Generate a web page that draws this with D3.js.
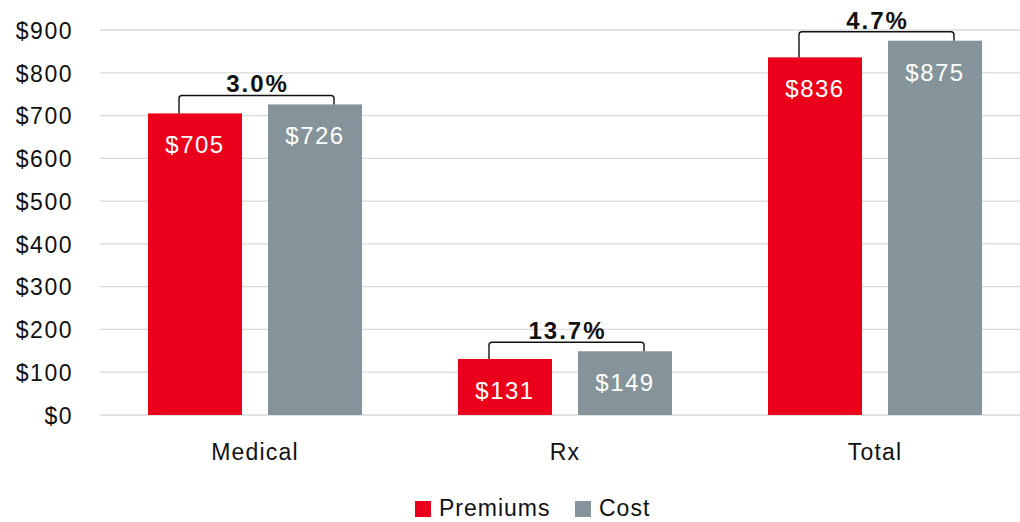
<!DOCTYPE html>
<html>
<head>
<meta charset="utf-8">
<script src="https://cdn.jsdelivr.net/npm/d3@7"></script>
<style>
  body { margin: 0; background: #fff; }
  svg { display: block; font-family: "Liberation Sans", Arial, sans-serif; }
</style>
</head>
<body>
<div id="chart"></div>
<script>
// chart data
const categories = ['Medical', 'Rx', 'Total']
const seriesNames = ['Premiums', 'Cost']
const premiums = [705, 131, 836]
const cost = [726, 149, 875]
const changeLabels = ['3.0%', '13.7%', '4.7%']
const yTicks = [0, 100, 200, 300, 400, 500, 600, 700, 800, 900]

const colors = { Premiums: '#EB001B', Cost: '#84949A' }

const width = 1020
const height = 522
const margin = { top: 30, left: 100, bottom: 107 }

const svg = d3.select('#chart').append('svg')
  .attr('width', width)
  .attr('height', height)

// scales
const x = d3.scaleBand()
  .domain(categories)
  .range([margin.left, margin.left + 930])

const x1 = d3.scaleBand()
  .domain(seriesNames)
  .range([48, 262])
  .paddingInner(26 / 120)

const y = d3.scaleLinear()
  .domain([0, 900])
  .range([height - margin.bottom, margin.top])

// grid lines
svg.append('g')
  .selectAll('line')
  .data(yTicks)
  .join('line')
  .attr('x1', margin.left)
  .attr('x2', width)
  .attr('y1', d => y(d))
  .attr('y2', d => y(d))
  .attr('stroke', '#d9d9d9')
  .attr('stroke-width', 1.3)

// y axis labels
const yAxis = svg.append('g')
  .attr('transform', `translate(${73},0)`)
  .call(d3.axisLeft(y).tickValues(yTicks).tickSize(0).tickPadding(0).tickFormat(d => '$' + d))
yAxis.select('.domain').remove()
yAxis.selectAll('text')
  .attr('font-size', 23)
  .attr('font-family', '"Liberation Sans", Arial, sans-serif')
  .attr('letter-spacing', 1.5)
  .attr('fill', '#111')
  .attr('dy', '0.36em')

// x axis labels
const xAxis = svg.append('g')
  .attr('transform', `translate(0,${y(0)})`)
  .call(d3.axisBottom(x).tickSize(0).tickPadding(0))
xAxis.select('.domain').remove()
xAxis.selectAll('text')
  .attr('font-size', 23)
  .attr('font-family', '"Liberation Sans", Arial, sans-serif')
  .attr('letter-spacing', 1.2)
  .attr('fill', '#111')
  .attr('dy', 0)
  .attr('y', 45)

// bars
const rows = categories.map((c, i) => ({
  category: c,
  values: [
    { series: 'Premiums', value: premiums[i] },
    { series: 'Cost', value: cost[i] }
  ],
  change: changeLabels[i]
}))

const groups = svg.append('g')
  .selectAll('g')
  .data(rows)
  .join('g')
  .attr('transform', d => `translate(${x(d.category)},0)`)

groups.selectAll('rect')
  .data(d => d.values)
  .join('rect')
  .attr('x', d => x1(d.series))
  .attr('width', x1.bandwidth())
  .attr('y', d => y(d.value))
  .attr('height', d => y(0) - y(d.value))
  .attr('fill', d => colors[d.series])

groups.selectAll('text.value')
  .data(d => d.values)
  .join('text')
  .attr('class', 'value')
  .attr('x', d => x1(d.series) + x1.bandwidth() / 2)
  .attr('y', d => y(d.value) + 40)
  .attr('text-anchor', 'middle')
  .attr('font-size', 24)
  .attr('letter-spacing', 1.5)
  .attr('fill', '#fff')
  .text(d => '$' + d.value)

// brackets showing change from premiums to cost
groups.each(function (d) {
  const g = d3.select(this)
  const xl = x1('Premiums') + 31
  const xr = x1('Cost') + 66
  const top = y(Math.max(d.values[0].value, d.values[1].value)) - 9
  const r = 3
  const path = d3.path()
  path.moveTo(xl, y(d.values[0].value))
  path.lineTo(xl, top + r)
  path.quadraticCurveTo(xl, top, xl + r, top)
  path.lineTo(xr - r, top)
  path.quadraticCurveTo(xr, top, xr, top + r)
  path.lineTo(xr, y(d.values[1].value))
  g.append('path')
    .attr('d', path.toString())
    .attr('fill', 'none')
    .attr('stroke', '#111')
    .attr('stroke-width', 1.4)
  g.append('text')
    .attr('x', (xl + xr) / 2 + 1)
    .attr('y', top - 3)
    .attr('text-anchor', 'middle')
    .attr('font-size', 24)
    .attr('font-weight', 'bold')
    .attr('letter-spacing', 2)
    .attr('fill', '#111')
    .text(d.change)
})

// legend
const legend = svg.append('g')
  .attr('transform', `translate(415,501)`)
const legendItems = legend.selectAll('g')
  .data(seriesNames)
  .join('g')
  .attr('transform', (d, i) => `translate(${i * 160},0)`)
legendItems.append('rect')
  .attr('width', 16)
  .attr('height', 16)
  .attr('fill', d => colors[d])
legendItems.append('text')
  .attr('x', 24)
  .attr('y', 15)
  .attr('font-size', 23)
  .attr('letter-spacing', 1)
  .attr('fill', '#111')
  .text(d => d)
</script>
</body>
</html>
